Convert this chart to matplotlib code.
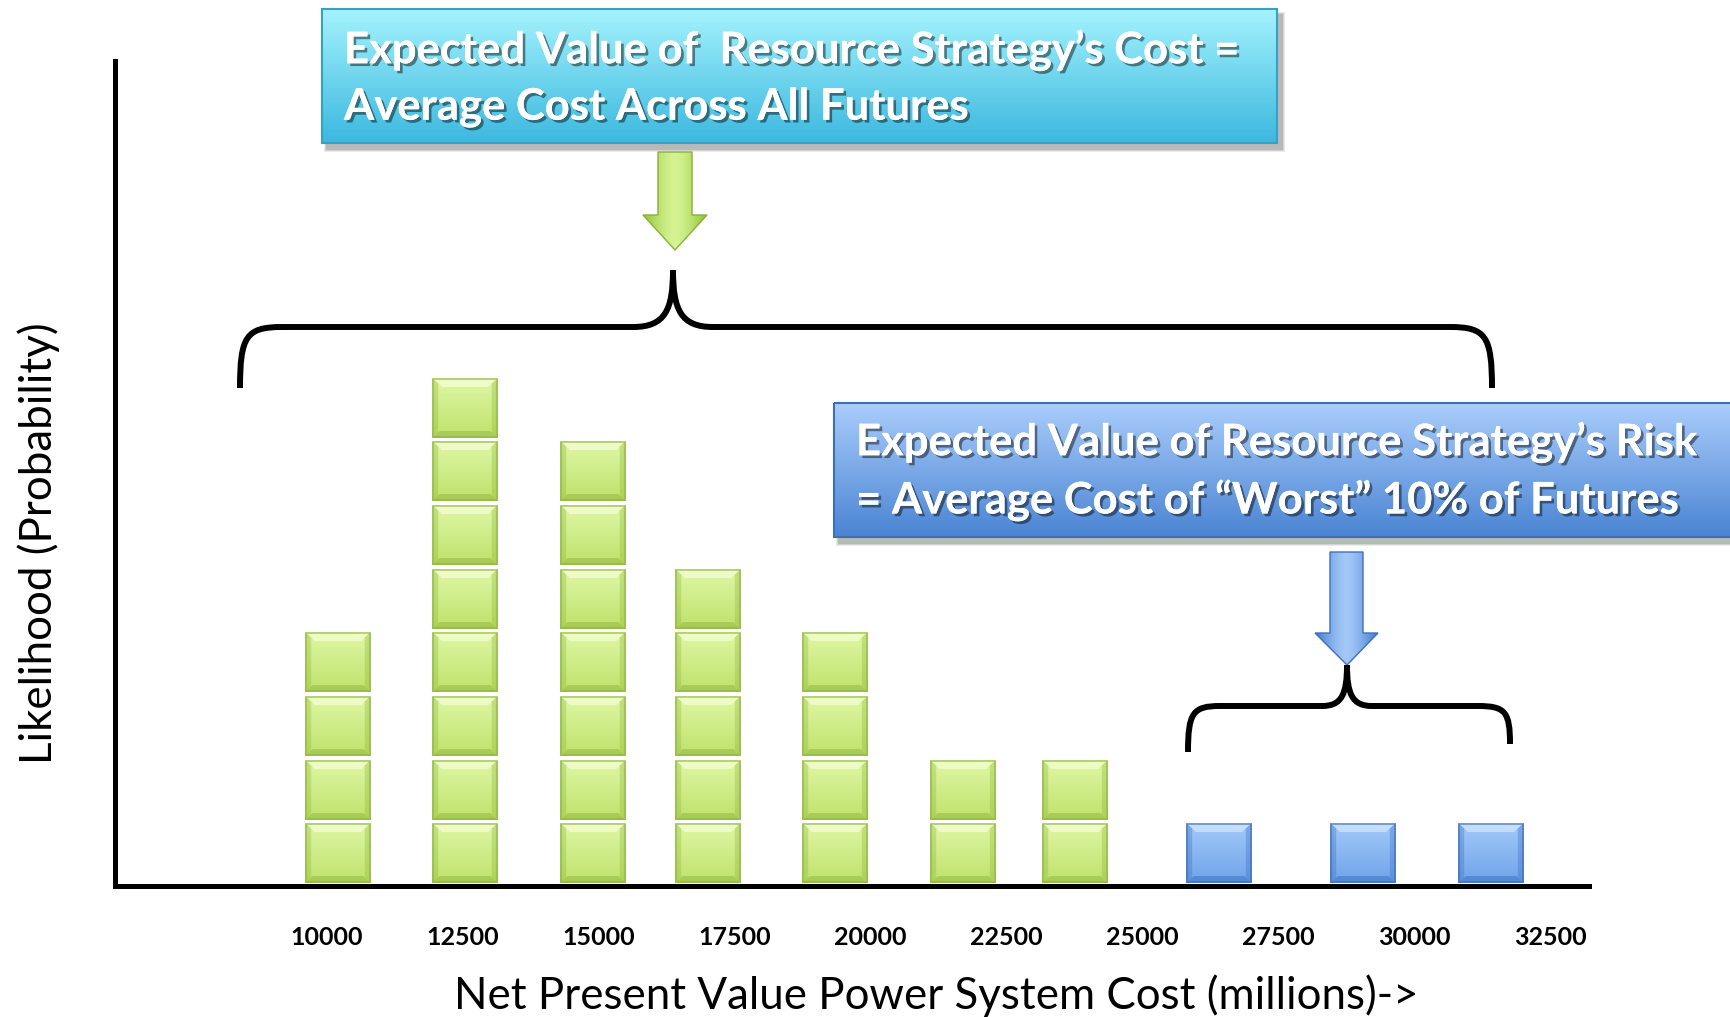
import numpy as np
import matplotlib
matplotlib.use("Agg")
import matplotlib.pyplot as plt
from matplotlib.patches import Rectangle, Polygon, PathPatch
from matplotlib.path import Path
from matplotlib.colors import to_rgb
import matplotlib.patheffects as pe

plt.rcParams['font.family'] = ['Lato', 'DejaVu Sans']

# =============================================================================
# 1. Data
# =============================================================================
cost_bins = [10200, 12550, 14900, 17000, 19350, 21700, 23750, 26400, 29050, 31400]
future_counts = [4, 8, 7, 5, 4, 2, 2, 1, 1, 1]
worst_10pct = [False, False, False, False, False, False, False, True, True, True]

tick_values = [10000, 12500, 15000, 17500, 20000, 22500, 25000, 27500, 30000, 32500]
tick_labels = [str(v) for v in tick_values]

x_title = "Net Present Value Power System Cost (millions)->"
y_title = "Likelihood (Probability)"
cost_box_lines = ["Expected Value of  Resource Strategy\u2019s Cost =",
                  "Average Cost Across All Futures"]
risk_box_lines = ["Expected Value of Resource Strategy\u2019s Risk",
                  "= Average Cost of \u201cWorst\u201d 10% of Futures"]

# =============================================================================
# 2. Helpers
# =============================================================================
W, H = 1730, 1017


def bevel_image(top, bottom, edge, light, h=60, w=64, bw=0.14):
    """Small RGB image of a bevelled square block."""
    top, bottom, edge, light = [np.array(to_rgb(c)) for c in (top, bottom, edge, light)]
    yy, xx = np.mgrid[0:1:h * 1j, 0:1:w * 1j]
    img = top[None, None, :] * (1 - yy[..., None]) + bottom[None, None, :] * yy[..., None]
    d_top, d_bot = yy, 1 - yy
    d_side = np.minimum(xx, 1 - xx) * w / h
    top_band = (d_top < bw) & (d_top <= d_side)
    bot_band = (d_bot < bw * 0.8) & (d_bot <= d_side)
    side_band = (d_side < bw * 0.7) & ~top_band & ~bot_band
    img[top_band] = 0.3 * img[top_band] + 0.7 * light
    img[side_band] = 0.65 * img[side_band] + 0.35 * edge
    img[bot_band] = 0.5 * img[bot_band] + 0.5 * edge
    border = (d_top < 0.02) | (d_bot < 0.03) | (d_side < 0.025)
    img[border] = 0.4 * img[border] + 0.6 * edge
    return img


def soft_shadow(ax, x0, y0, x1, y1, dx=5, dy=6):
    for k, a in enumerate([0.08, 0.1, 0.12]):
        g = 3 - k
        ax.add_patch(Rectangle((x0 + dx - g, y0 + dy - g), x1 - x0 + 2 * g, y1 - y0 + 2 * g,
                               fc='black', alpha=a, lw=0, zorder=1))


def gradient_box(ax, x0, y0, x1, y1, top, bottom, edge):
    soft_shadow(ax, x0, y0, x1, y1)
    t = np.linspace(0, 1, 200)[:, None, None]
    img = np.array(to_rgb(top)) * (1 - t) + np.array(to_rgb(bottom)) * t
    ax.imshow(img, extent=(x0, x1, y1, y0), aspect='auto', zorder=2, interpolation='bilinear')
    ax.add_patch(Rectangle((x0, y0), x1 - x0, y1 - y0, fill=False, ec=edge, lw=1.5, zorder=3))


def gradient_arrow(ax, pts, centre, side, edge):
    poly = Polygon(pts, closed=True, fc='none', ec=edge, lw=1.0, zorder=4)
    ax.add_patch(poly)
    xs = [p[0] for p in pts]
    ys = [p[1] for p in pts]
    t = np.abs(np.linspace(-1, 1, 100))[None, :, None] ** 1.5
    img = np.array(to_rgb(centre)) * (1 - t) + np.array(to_rgb(side)) * t
    im = ax.imshow(img, extent=(min(xs), max(xs), max(ys), min(ys)), aspect='auto',
                   zorder=3, interpolation='bilinear')
    im.set_clip_path(poly)


def brace(ax, xl, yl, xr, yr, yh, xm, yc, rc, rm, lw=4.3):
    verts = [(xl, yl),
             (xl, yh + (yl - yh) * 0.15), (xl + rc * 0.15, yh), (xl + rc, yh),
             (xm - rm, yh),
             (xm - rm * 0.2, yh), (xm, yh - (yh - yc) * 0.3), (xm, yc),
             (xm, yh - (yh - yc) * 0.3), (xm + rm * 0.2, yh), (xm + rm, yh),
             (xr - rc, yh),
             (xr - rc * 0.15, yh), (xr, yh + (yr - yh) * 0.15), (xr, yr)]
    codes = [Path.MOVETO, Path.CURVE4, Path.CURVE4, Path.CURVE4, Path.LINETO,
             Path.CURVE4, Path.CURVE4, Path.CURVE4, Path.CURVE4, Path.CURVE4, Path.CURVE4,
             Path.LINETO, Path.CURVE4, Path.CURVE4, Path.CURVE4]
    ax.add_patch(PathPatch(Path(verts, codes), fc='none', ec='black', lw=lw,
                           capstyle='butt', zorder=4))


green_block = bevel_image('#dff7a6', '#bfe26a', '#8fb640', '#f6fed6')
blue_block = bevel_image('#a3c9f8', '#6fa3ea', '#3c6fbf', '#d3e7fd')

# =============================================================================
# 3. Figure + stacked-block histogram
# =============================================================================
fig = plt.figure(figsize=(W / 100, H / 100), dpi=100)
ax = fig.add_axes([115 / W, 131 / H, 1474 / W, 825 / H])

block_w = 1200
for x, n, worst in zip(cost_bins, future_counts, worst_10pct):
    img = blue_block if worst else green_block
    for k in range(n):
        ax.imshow(img, extent=(x - block_w / 2, x + block_w / 2, k + 0.04, k + 0.97),
                  aspect='auto', interpolation='bilinear', zorder=2)

ax.set_xlim(6113, 33214)
ax.set_ylim(0, 12.95)
ax.spines[['top', 'right']].set_visible(False)
for s in ['left', 'bottom']:
    ax.spines[s].set_linewidth(3.6)
    ax.spines[s].set_zorder(5)
ax.set_yticks([])
ax.set_xticks(tick_values)
ax.set_xticklabels(tick_labels, fontsize=18, fontweight='bold')
ax.tick_params(axis='x', length=0, pad=29)

# =============================================================================
# 4. Annotations (figure pixel space)
# =============================================================================
ov = fig.add_axes([0, 0, 1, 1], zorder=5)
ov.axis('off')

shadow = [pe.withSimplePatchShadow(offset=(2, -2), shadow_rgbFace='black', alpha=0.45),
          pe.Normal()]

gradient_box(ov, 322, 9, 1277, 143, '#a4f3fd', '#3cb8df', '#3a9fc2')
for i, line in enumerate(cost_box_lines):
    ov.text(344, 50 + 57 * i, line, color='white', fontsize=31.4, fontweight='bold',
            ha='left', va='center', zorder=6, path_effects=shadow)

gradient_box(ov, 834, 403, 1745, 537, '#aacdfb', '#4a84d3', '#3c6fb8')
for i, line in enumerate(risk_box_lines):
    ov.text(856, 442 + 58 * i, line, color='white', fontsize=31.4, fontweight='bold',
            ha='left', va='center', zorder=6, path_effects=shadow)

gradient_arrow(ov, [(658, 152), (692, 152), (692, 215), (707, 215), (675, 250),
                    (643, 215), (658, 215)], '#d6f393', '#8fc232', '#86b236')
gradient_arrow(ov, [(1330, 552), (1363, 552), (1363, 633), (1378, 633), (1347, 665),
                    (1315, 633), (1330, 633)], '#a2c8f7', '#3f77cb', '#3f70bd')

brace(ov, 240, 388, 1492, 388, 327, 673, 270, 42, 40)
brace(ov, 1188, 752, 1510, 744, 706, 1347, 665, 32, 25)

ov.text(39, 543, y_title, rotation=90, fontsize=31.6, ha='center', va='center')
ov.text(936, 996, x_title, fontsize=31.6, ha='center', va='center')

ov.set_xlim(0, W)
ov.set_ylim(H, 0)

fig.savefig("out.png", dpi=100)
